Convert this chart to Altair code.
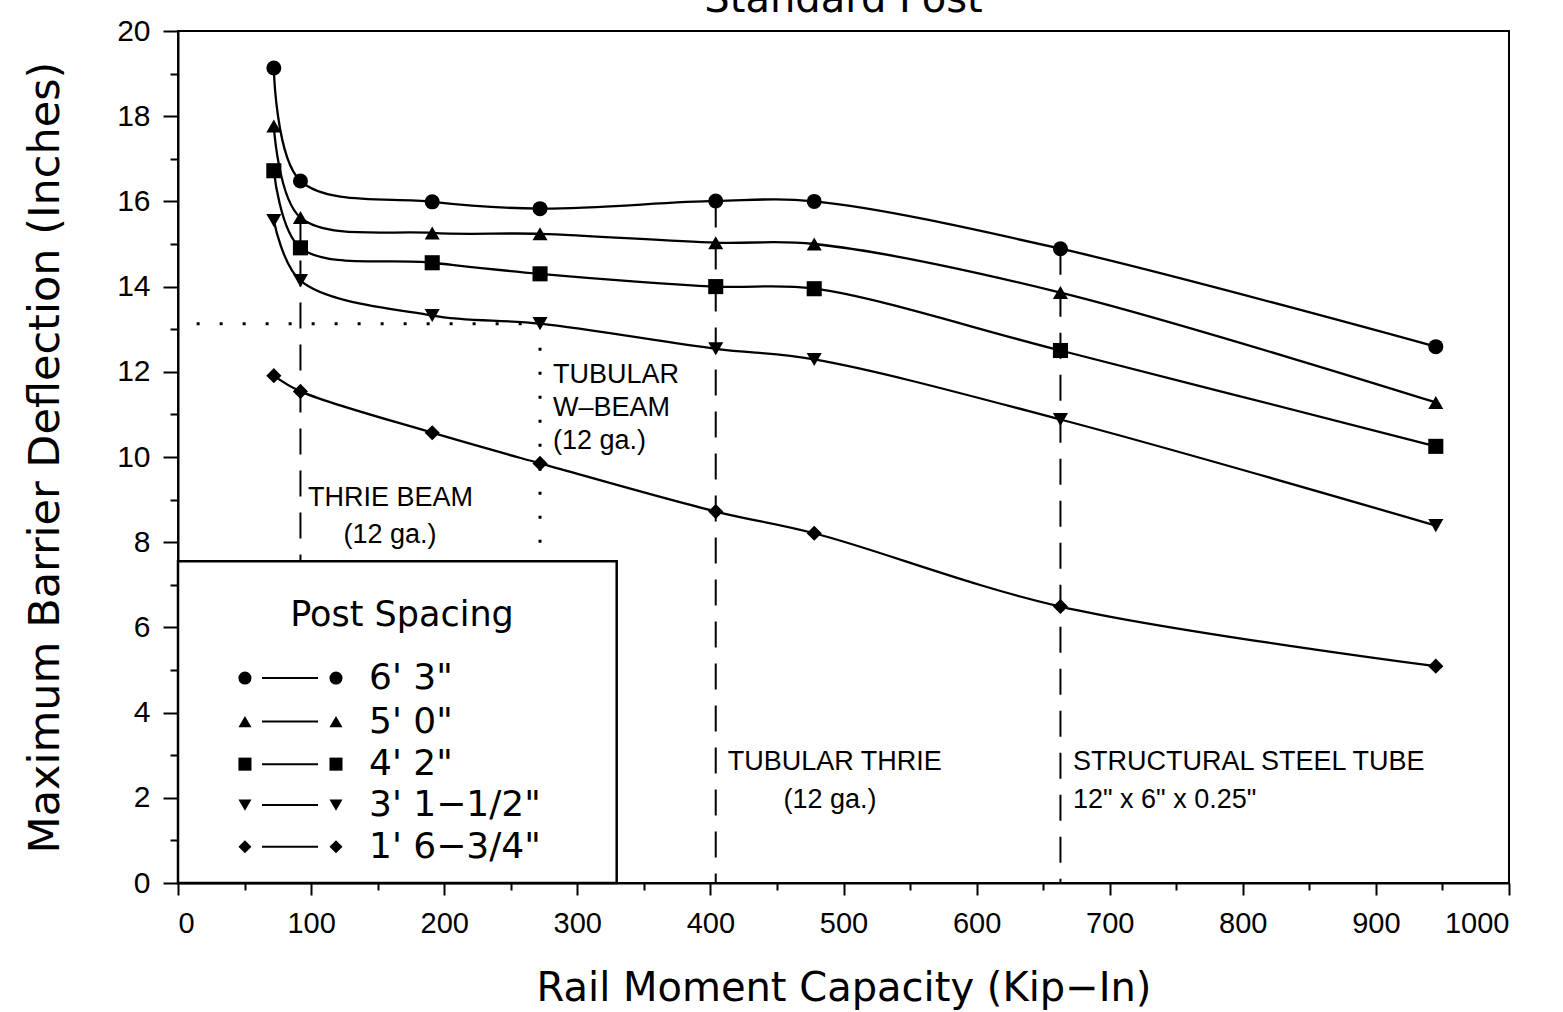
import altair as alt
import pandas as pd

# ---------------- data ----------------
chart_title = "Standard Post"
series = ["6' 3\"", "5' 0\"", "4' 2\"", "3' 1\u22121/2\"", "1' 6\u22123/4\""]
moment = [72, 92, 191, 272, 404, 478, 663, 945]
defl_6_3 = [19.13, 16.48, 15.99, 15.83, 16.01, 16.00, 14.89, 12.59]
defl_5_0 = [17.77, 15.62, 15.26, 15.24, 15.03, 15.00, 13.86, 11.28]
defl_4_2 = [16.72, 14.91, 14.56, 14.30, 14.00, 13.95, 12.50, 10.25]
defl_3_1 = [15.55, 14.14, 13.32, 13.13, 12.54, 12.29, 10.88, 8.39]
defl_1_6 = [11.91, 11.54, 10.57, 9.85, 8.72, 8.21, 6.49, 5.09]

# reference lines (rail types)
dash_x = [92, 404, 663]
dash_top = [15.6, 16.0, 14.89]
dot_x = [272]
dot_top = [13.13]
hdot_y = [13.13]
hdot_from = [14]
hdot_to = [272]

# annotations
note_text = ["THRIE BEAM", "(12 ga.)", "TUBULAR", "W\u2013BEAM", "(12 ga.)",
             "TUBULAR THRIE", "(12 ga.)", "STRUCTURAL STEEL TUBE", "12\" x 6\" x 0.25\""]
note_x = [97.7, 159.3, 281.7, 281.7, 281.7, 413, 489.8, 672.4, 672.4]
note_y = [9.03, 8.17, 11.92, 11.15, 10.38, 2.84, 1.95, 2.84, 1.95]
note_align = ["left", "center", "left", "left", "left", "left", "center", "left", "left"]

# legend layout (data coordinates)
legend_box = {"x0": 0, "x1": 329.6, "y0": 0, "y1": 7.55}
legend_title_pos = (168.3, 6.29)
legend_row_y = [4.81, 3.79, 2.79, 1.83, 0.85]
legend_mark_x = [50.3, 118.7]
legend_line_x = [63.1, 105.2]
legend_label_x = 143.5

# styles
shapes = ["circle", "triangle-up", "square", "triangle-down", "diamond"]
marker_sizes = [225, 230, 190, 230, 150]

# ---------------- tables ----------------
rows = []
for name, vals in zip(series, [defl_6_3, defl_5_0, defl_4_2, defl_3_1, defl_1_6]):
    for x, y in zip(moment, vals):
        rows.append({"series": name, "moment": x, "defl": y})
df = pd.DataFrame(rows)

dash_df = pd.DataFrame({"moment": dash_x, "defl": dash_top, "defl2": [0] * len(dash_x)})
dot_df = pd.DataFrame({"moment": dot_x, "defl": dot_top, "defl2": [legend_box["y1"]]})
hdot_df = pd.DataFrame({"moment": hdot_from, "moment2": hdot_to, "defl": hdot_y})
note_df = pd.DataFrame({"moment": note_x, "defl": note_y, "text": note_text, "align": note_align})
box_df = pd.DataFrame({"moment": [legend_box["x0"]], "moment2": [legend_box["x1"]],
                       "defl": [legend_box["y0"]], "defl2": [legend_box["y1"]]})
leg_pts = pd.DataFrame([{"series": s, "moment": mx, "defl": ry}
                        for s, ry in zip(series, legend_row_y) for mx in legend_mark_x])
leg_lines = pd.DataFrame({"moment": [legend_line_x[0]] * 5, "moment2": [legend_line_x[1]] * 5,
                          "defl": legend_row_y})
leg_labels = pd.DataFrame({"moment": [legend_label_x] * 5, "defl": legend_row_y, "text": series})
leg_title = pd.DataFrame({"moment": [legend_title_pos[0]], "defl": [legend_title_pos[1]],
                          "text": ["Post Spacing"]})
title_df = pd.DataFrame({"text": [chart_title]})

# ---------------- scales / axes ----------------
xscale = alt.Scale(domain=[0, 1000], nice=False, zero=False)
yscale = alt.Scale(domain=[0, 20], nice=False, zero=False)

xaxis = alt.Axis(
    values=list(range(0, 1001, 50)), format="d",
    labelExpr="datum.value % 100 === 0 ? datum.label : ''",
    tickSize={"condition": {"test": "datum.value % 100 === 0", "value": 12}, "value": 7},
    labelPadding=14, labelFont="Liberation Sans", labelFontSize=29,
    title="Rail Moment Capacity (Kip\u2212In)", titleFont="DejaVu Sans", titleFontSize=40,
    titleFontWeight="normal", titleX=665.5, titleY=105, titleBaseline="middle",
    titleAlign="center", grid=False,
)
yaxis = alt.Axis(
    values=list(range(0, 21, 1)), format="d",
    labelExpr="datum.value % 2 === 0 ? datum.label : ''",
    tickSize={"condition": {"test": "datum.value % 2 === 0", "value": 15}, "value": 8},
    labelPadding=13, labelFont="Liberation Sans", labelFontSize=30,
    title="Maximum Barrier Deflection (Inches)", titleFont="DejaVu Sans", titleFontSize=43,
    titleFontWeight="normal", titleX=-133, titleY=426, titleBaseline="middle",
    titleAlign="center", titleAngle=270, grid=False,
)


def X(field="moment"):
    return alt.X(f"{field}:Q", scale=xscale, axis=xaxis)


def Y(field="defl"):
    return alt.Y(f"{field}:Q", scale=yscale, axis=yaxis)


shape_enc = alt.Shape("series:N", scale=alt.Scale(domain=series, range=shapes), legend=None)
note_font = "Liberation Sans Narrow, Arial Narrow, Liberation Sans"

lines = alt.Chart(df).mark_line(interpolate="catmull-rom", color="black", strokeWidth=2.3).encode(
    x=X(), y=Y(), detail="series:N"
)
points = alt.Chart(df).mark_point(filled=True, color="black", opacity=1).encode(
    x=X(), y=Y(), shape=shape_enc,
    size=alt.Size("series:N", scale=alt.Scale(domain=series, range=marker_sizes), legend=None),
)
vdash = alt.Chart(dash_df).mark_rule(color="black", strokeWidth=2, strokeDash=[26, 16]).encode(
    x=X(), y=Y(), y2=alt.Y2("defl2:Q")
)
vdot = alt.Chart(dot_df).mark_rule(color="black", strokeWidth=3, strokeDash=[3, 21]).encode(
    x=X(), y=Y(), y2=alt.Y2("defl2:Q")
)
hdot = alt.Chart(hdot_df).mark_rule(color="black", strokeWidth=3, strokeDash=[3, 20]).encode(
    x=X(), x2=alt.X2("moment2:Q"), y=Y()
)
notes_left = alt.Chart(note_df).transform_filter("datum.align === 'left'").mark_text(
    align="left", baseline="middle", font=note_font, fontSize=27, color="black"
).encode(x=X(), y=Y(), text="text:N")
notes_center = alt.Chart(note_df).transform_filter("datum.align === 'center'").mark_text(
    align="center", baseline="middle", font=note_font, fontSize=27, color="black"
).encode(x=X(), y=Y(), text="text:N")
box = alt.Chart(box_df).mark_rect(fill="white", stroke="black", strokeWidth=2.5).encode(
    x=X(), x2=alt.X2("moment2:Q"), y=Y(), y2=alt.Y2("defl2:Q")
)
legend_lines = alt.Chart(leg_lines).mark_rule(color="black", strokeWidth=2).encode(
    x=X(), x2=alt.X2("moment2:Q"), y=Y()
)
legend_points = alt.Chart(leg_pts).mark_point(filled=True, color="black", opacity=1, size=170).encode(
    x=X(), y=Y(), shape=shape_enc
)
legend_labels = alt.Chart(leg_labels).mark_text(
    align="left", baseline="middle", font="DejaVu Sans", fontSize=36, color="black"
).encode(x=X(), y=Y(), text="text:N")
legend_title = alt.Chart(leg_title).mark_text(
    align="center", baseline="middle", font="DejaVu Sans", fontSize=35, color="black"
).encode(x=X(), y=Y(), text="text:N")
title_mark = alt.Chart(title_df).mark_text(
    align="center", baseline="alphabetic", font="DejaVu Sans", fontSize=40, color="black"
).encode(x=alt.value(665.5), y=alt.value(-19), text="text:N")

chart = alt.layer(
    lines, points, vdash, vdot, hdot, notes_left, notes_center,
    box, legend_lines, legend_points, legend_labels, legend_title, title_mark
).properties(
    width=1331, height=852,
    autosize=alt.AutoSizeParams(type="none"),
    padding={"left": 178, "top": 31, "right": 54, "bottom": 129},
).configure_view(
    stroke="black", strokeWidth=2
).configure_axis(
    domainColor="black", domainWidth=2, tickColor="black", tickWidth=2,
    labelColor="black", titleColor="black"
)

chart.save("out.html", embed_options={"renderer": "svg", "actions": False})
